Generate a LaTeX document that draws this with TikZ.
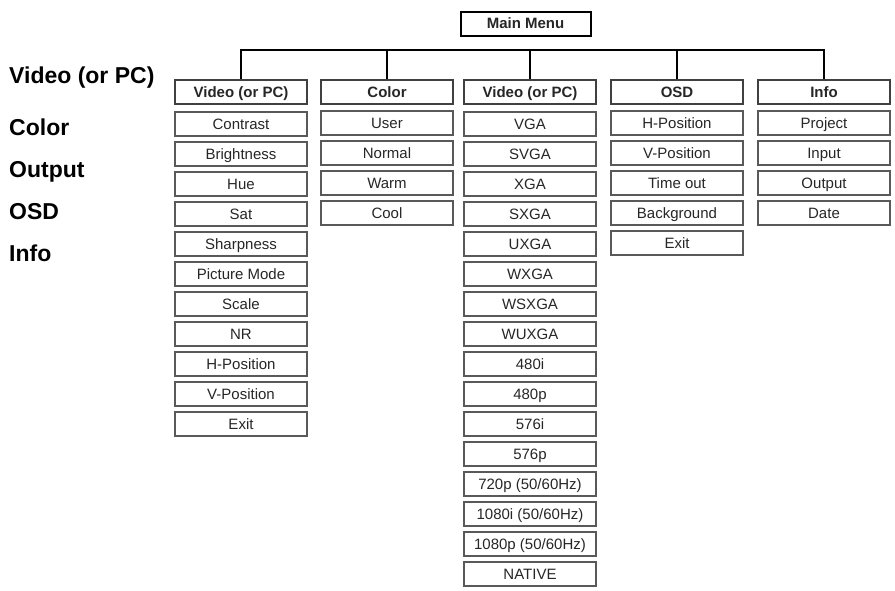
\documentclass[tikz,border=0pt]{standalone}
\usepackage{fontspec}
\setmainfont{Liberation Sans}
\begin{document}
\begin{tikzpicture}[x=1pt,y=-1pt,
  every node/.style={font=\fontsize{15}{17}\selectfont,text=black!85},
  item/.style={draw=black!65,line width=1.3pt,minimum width=132pt,minimum height=24pt,inner sep=0pt,text height=12pt,text depth=2pt},
  head/.style={item,draw=black!75,line width=1.6pt,font=\fontsize{15}{17}\selectfont\bfseries},
  side/.style={anchor=base west,inner sep=0pt,font=\fontsize{23}{25}\selectfont\bfseries,text=black},
  wire/.style={line width=2pt,black}]
  \useasboundingbox (0,0) rectangle (895,590);
  % left legend
  \node[side] (lvid) at (9,83) {Video (or PC)};
  \node[side] (lcol) at (9,135) {Color};
  \node[side] (lout) at (9,177) {Output};
  \node[side] (losd) at (9,219) {OSD};
  \node[side] (linf) at (9,261) {Info};
  % top
  \node[head,draw=black,line width=2pt,minimum width=130pt] (main) at (525.5,23.5) {Main Menu};
  \node[head] (vid) at (241,92) {Video (or PC)};
  \node[head] (col) at (387,92) {Color};
  \node[head] (fmt) at (530,92) {Video (or PC)};
  \node[head] (osd) at (677,92) {OSD};
  \node[head] (info) at (824,92) {Info};
  \coordinate (bus) at (0,50);
  \draw[wire] (vid.north) -- (vid.north |- bus) -- (info.north |- bus) -- (info.north);
  \draw[wire] (col.north) -- (col.north |- bus);
  \draw[wire] (fmt.north) -- (fmt.north |- bus);
  \draw[wire] (osd.north) -- (osd.north |- bus);
  % video (or PC)
  \node[item] (contrast) at (241,124) {Contrast};
  \node[item] (bright) at (241,154) {Brightness};
  \node[item] (hue) at (241,184) {Hue};
  \node[item] (sat) at (241,214) {Sat};
  \node[item] (sharp) at (241,244) {Sharpness};
  \node[item] (picmode) at (241,274) {Picture Mode};
  \node[item] (scale) at (241,304) {Scale};
  \node[item] (nr) at (241,334) {NR};
  \node[item] (hpos) at (241,364) {H-Position};
  \node[item] (vpos) at (241,394) {V-Position};
  \node[item] (vexit) at (241,424) {Exit};
  % color
  \node[item] (user) at (387,123) {User};
  \node[item] (normal) at (387,153) {Normal};
  \node[item] (warm) at (387,183) {Warm};
  \node[item] (cool) at (387,213) {Cool};
  % formats
  \node[item] (vga) at (530,124) {VGA};
  \node[item] (svga) at (530,154) {SVGA};
  \node[item] (xga) at (530,184) {XGA};
  \node[item] (sxga) at (530,214) {SXGA};
  \node[item] (uxga) at (530,244) {UXGA};
  \node[item] (wxga) at (530,274) {WXGA};
  \node[item] (wsxga) at (530,304) {WSXGA};
  \node[item] (wuxga) at (530,334) {WUXGA};
  \node[item] (ia) at (530,364) {480i};
  \node[item] (pa) at (530,394) {480p};
  \node[item] (ib) at (530,424) {576i};
  \node[item] (pb) at (530,454) {576p};
  \node[item] (pc) at (530,484) {720p (50/60Hz)};
  \node[item] (ic) at (530,514) {1080i (50/60Hz)};
  \node[item] (pd) at (530,544) {1080p (50/60Hz)};
  \node[item] (native) at (530,574) {NATIVE};
  % osd
  \node[item] (ohpos) at (677,123) {H-Position};
  \node[item] (ovpos) at (677,153) {V-Position};
  \node[item] (timeout) at (677,183) {Time out};
  \node[item] (backgr) at (677,213) {Background};
  \node[item] (oexit) at (677,243) {Exit};
  % info
  \node[item] (project) at (824,123) {Project};
  \node[item] (input) at (824,153) {Input};
  \node[item] (output) at (824,183) {Output};
  \node[item] (date) at (824,213) {Date};
\end{tikzpicture}
\end{document}
